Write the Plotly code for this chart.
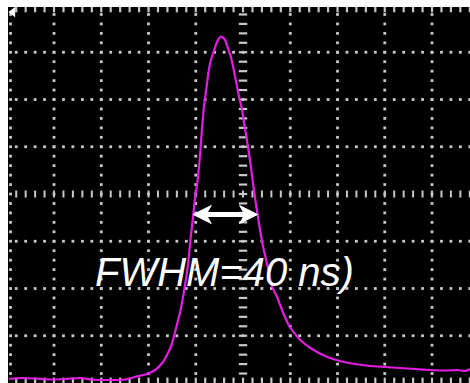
import numpy as np
import plotly.graph_objects as go

# Oscilloscope trace, in screen divisions (x: time div, y: amplitude div)
trace_x = [0.05, 0.32, 0.60, 0.92, 1.23, 1.55, 1.80, 2.08, 2.40, 2.57, 2.71, 2.97, 3.14, 3.29,
           3.39, 3.48, 3.54, 3.60, 3.67, 3.73, 3.79, 3.84, 3.88, 3.93, 3.98, 4.04, 4.09, 4.13,
           4.17, 4.22, 4.27, 4.32, 4.39, 4.46, 4.53,
           4.61, 4.66, 4.75, 4.83, 4.90, 4.98, 5.04, 5.11, 5.17, 5.23, 5.30, 5.36, 5.44, 5.53,
           5.61, 5.72, 5.85, 5.99, 6.21, 6.46, 6.76, 7.05, 7.37, 7.69, 8.01, 8.32, 8.64, 8.96,
           9.28, 9.55, 9.70, 9.80]
trace_y = [0.085, 0.106, 0.095, 0.074, 0.085, 0.106, 0.074, 0.063, 0.063, 0.085, 0.127, 0.190,
           0.275, 0.423, 0.593, 0.783, 0.995, 1.228, 1.503, 1.820, 2.180, 2.540, 2.963, 3.407,
           3.873, 4.296, 4.825, 5.354, 5.820, 6.201, 6.582, 6.836, 7.048, 7.238, 7.333,
           7.280, 7.153, 6.878, 6.497, 6.138, 5.778, 5.397, 4.974, 4.550, 4.085, 3.619, 3.238,
           2.815, 2.434, 2.053, 1.820, 1.481, 1.185, 0.910, 0.720, 0.561, 0.466, 0.402, 0.360,
           0.339, 0.317, 0.296, 0.275, 0.265, 0.275, 0.254, 0.296]

label_text = "FWHM=40 ns)"
label_pos = [4.60, 2.35]
trigger_x = [0.13]
trigger_y = [7.85]

x_range = [0.026, 9.804]
y_range = [0.0, 7.958]

GRID = "#c8c8c8"
TRACE = "#e21ee2"

fig = go.Figure()

# graticule dots
step = 0.2
ys = np.round(np.arange(0.2, 8.0, step), 3)
xs = np.round(np.arange(0.2, 9.81, step), 3)
gx, gy = [], []
for v in [1, 2, 3, 4, 6, 7, 8, 9]:
    gx += [v] * len(ys); gy += list(ys)
for h in [1, 2, 3, 5, 6, 7]:
    gx += list(xs); gy += [h] * len(xs)
gx += [0.08] * len(ys); gy += list(ys)
fig.add_trace(go.Scatter(x=gx, y=gy, mode="markers", hoverinfo="skip",
                         marker=dict(symbol="square", size=2.8, color=GRID)))
# center vertical line: short horizontal dashes
fig.add_trace(go.Scatter(x=[5] * len(ys), y=list(ys), mode="markers", hoverinfo="skip",
                         marker=dict(symbol="line-ew", size=6, line=dict(width=2.2, color=GRID))))
# center horizontal line: short vertical dashes
fig.add_trace(go.Scatter(x=list(xs), y=[4] * len(xs), mode="markers", hoverinfo="skip",
                         marker=dict(symbol="line-ns", size=5, line=dict(width=2, color=GRID))))
# top and bottom edge ticks
fig.add_trace(go.Scatter(x=list(xs) + list(xs), y=[7.92] * len(xs) + [0.04] * len(xs),
                         mode="markers", hoverinfo="skip",
                         marker=dict(symbol="line-ns", size=5, line=dict(width=2.2, color=GRID))))

# trigger marker
fig.add_trace(go.Scatter(x=trigger_x, y=trigger_y, mode="markers", hoverinfo="skip",
                         marker=dict(symbol="triangle-left", size=9, color="white")))

# pulse trace
fig.add_trace(go.Scatter(x=trace_x, y=trace_y, mode="lines", hoverinfo="skip",
                         line=dict(color=TRACE, width=2.2, shape="spline", smoothing=0.5)))

# FWHM double arrow from half-maximum crossings
tx = np.array(trace_x); ty = np.array(trace_y)
ipk = int(np.argmax(ty))
half = ty[ipk] / 2 - 0.1
xl = float(np.interp(half, ty[:ipk + 1], tx[:ipk + 1]))
xr = float(np.interp(half, ty[ipk:][::-1], tx[ipk:][::-1]))
hl, hh, hn = 0.38, 0.19, 0.27   # head length, half height, notch depth (div)
fig.add_shape(type="line", x0=xl + 0.2, x1=xr - 0.2, y0=half, y1=half,
              line=dict(color="white", width=5), layer="above")
for tip, d in [(xl, 1), (xr, -1)]:
    path = (f"M {tip},{half} L {tip + d * hl},{half + hh} L {tip + d * hn},{half} "
            f"L {tip + d * hl},{half - hh} Z")
    fig.add_shape(type="path", path=path, fillcolor="white", line=dict(color="white", width=1),
                  layer="above")

fig.add_annotation(x=label_pos[0], y=label_pos[1], xref="x", yref="y", text=label_text,
                   showarrow=False, xanchor="center", yanchor="middle",
                   font=dict(family="Liberation Sans, Arial", size=40, color="white", style="italic"))

fig.update_layout(width=470, height=383, margin=dict(l=8, r=0, t=7, b=0),
                  paper_bgcolor="white", plot_bgcolor="black", showlegend=False,
                  xaxis=dict(range=x_range, visible=False, fixedrange=True),
                  yaxis=dict(range=y_range, visible=False, fixedrange=True))

fig.write_html("out.html", config={"displayModeBar": False},
               post_script="document.body.style.margin='0';document.body.style.overflow='hidden';")
